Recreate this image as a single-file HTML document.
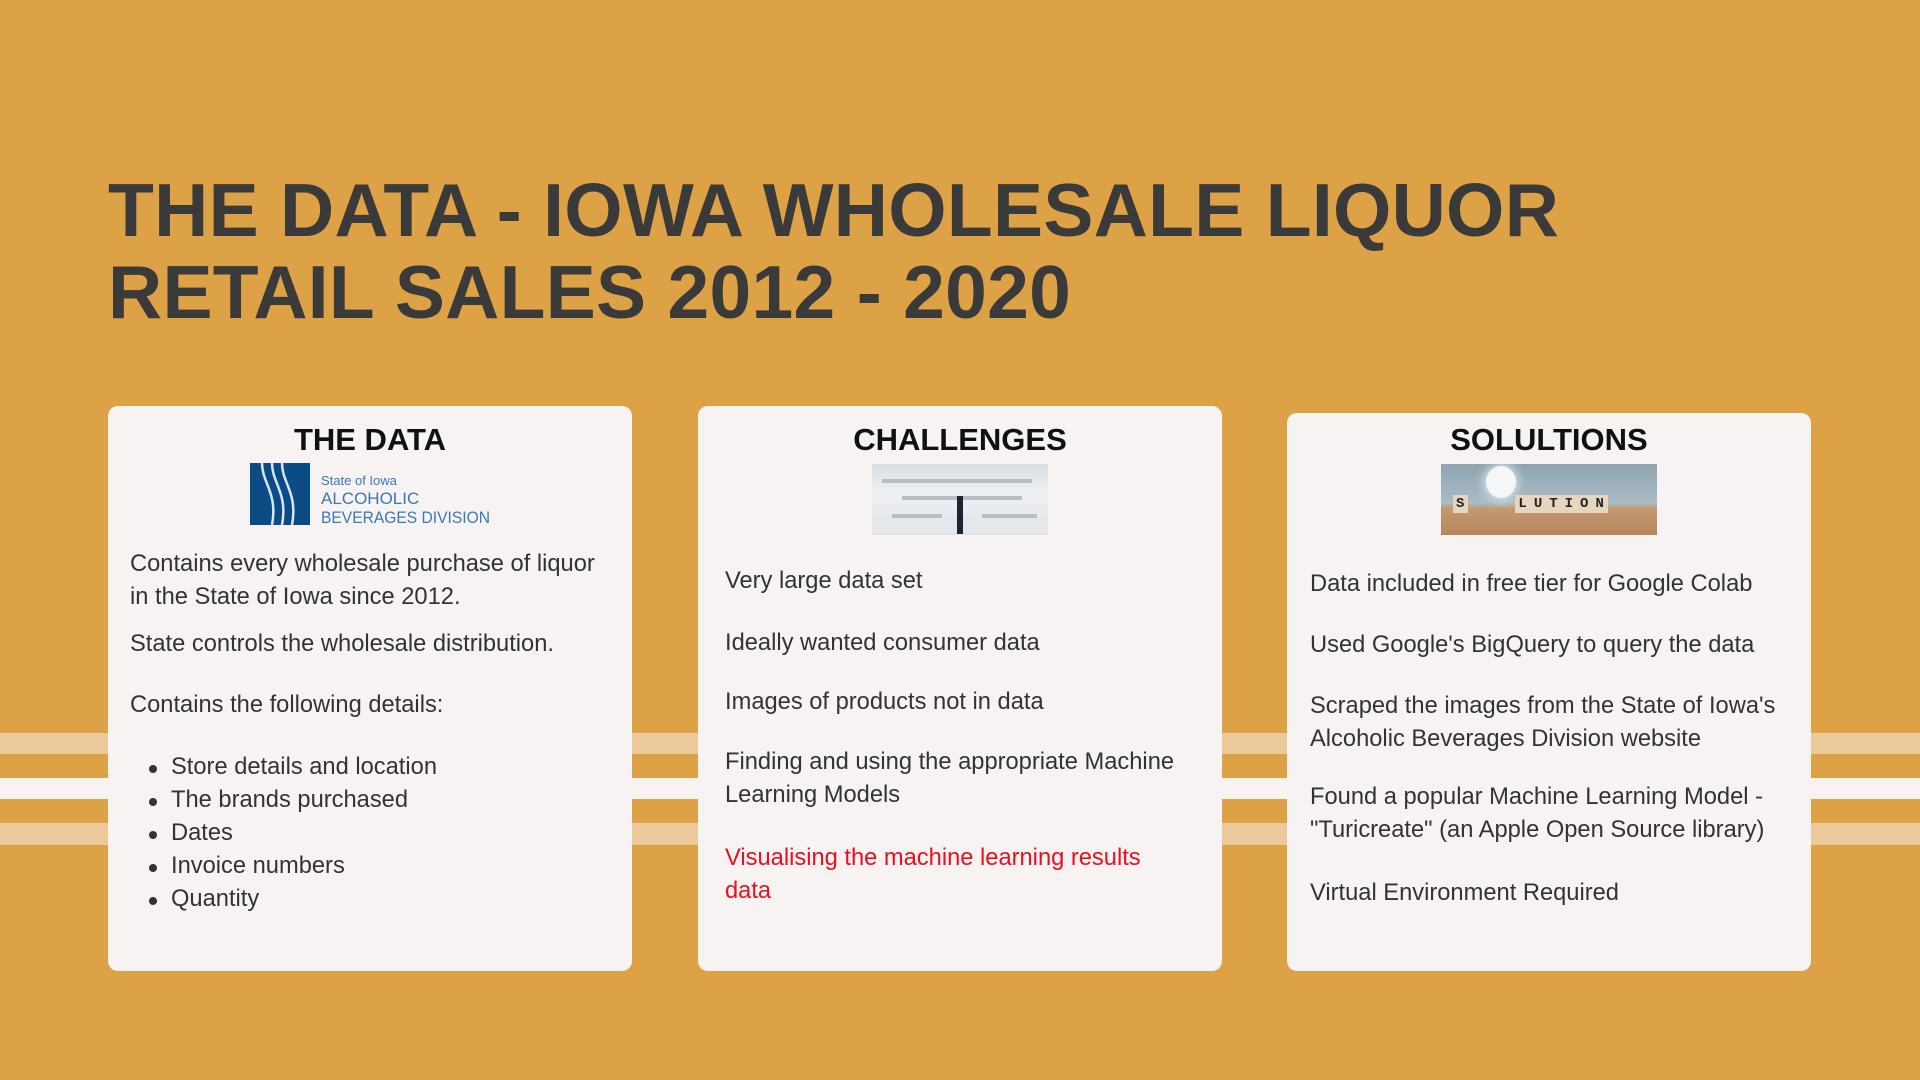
<!DOCTYPE html>
<html><head><meta charset="utf-8"><style>
*{margin:0;padding:0;box-sizing:border-box}
body{width:1920px;height:1080px;background:#dea246;position:relative;overflow:hidden;font-family:"Liberation Sans",sans-serif}
.band{position:absolute;left:0;width:1920px}
.title{position:absolute;left:108px;font-weight:bold;font-size:75px;color:#3a3a3a;white-space:nowrap;line-height:82px;letter-spacing:0.3px}
.card{position:absolute;background:#f7f3f2;border-radius:10px}
.h{position:absolute;width:100%;text-align:center;font-weight:bold;font-size:31px;color:#111;line-height:36px}
.t{position:absolute;font-size:23.7px;color:#333;line-height:33px;white-space:nowrap}
.red{color:#e8101e}
.dot{position:absolute;width:8px;height:8px;border-radius:50%;background:#333}
</style></head><body>
<div class="band" style="top:733px;height:21px;background:#ebc99a"></div>
<div class="band" style="top:778px;height:21px;background:#f8f3f1"></div>
<div class="band" style="top:823px;height:22px;background:#ebc99a"></div>

<div class="title" style="top:169px">THE DATA - IOWA WHOLESALE LIQUOR<br>RETAIL SALES 2012 - 2020</div>

<div class="card" style="left:108px;top:406px;width:524px;height:565px">
  <div class="h" style="top:16px">THE DATA</div>
  <svg style="position:absolute;left:142px;top:57px" width="250" height="62" viewBox="0 0 250 62">
    <rect x="0" y="0" width="60" height="62" fill="#0b4c86"/>
    <path d="M12 0 C12 20 28 30 22 62 M22 0 C22 20 38 30 32 62 M32 0 C32 20 48 30 42 62" stroke="#d9e6f2" stroke-width="2.5" fill="none"/>
    <text x="71" y="22" font-family="Liberation Sans" font-size="13" fill="#3b78b4">State of Iowa</text>
    <text x="71" y="41" font-family="Liberation Sans" font-size="17" fill="#3b78b4">ALCOHOLIC</text>
    <text x="71" y="60" font-family="Liberation Sans" font-size="17" fill="#3b78b4" textLength="169" lengthAdjust="spacingAndGlyphs">BEVERAGES DIVISION</text>
  </svg>
  <div class="t" style="left:22px;top:142px">Contains every wholesale purchase of liquor<br>in the State of Iowa since 2012.</div>
  <div class="t" style="left:22px;top:222px">State controls the wholesale distribution.</div>
  <div class="t" style="left:22px;top:283px">Contains the following details:</div>
  <div class="dot" style="left:41px;top:359px"></div>
  <div class="t" style="left:63px;top:345px">Store details and location</div>
  <div class="dot" style="left:41px;top:392px"></div>
  <div class="t" style="left:63px;top:378px">The brands purchased</div>
  <div class="dot" style="left:41px;top:425px"></div>
  <div class="t" style="left:63px;top:411px">Dates</div>
  <div class="dot" style="left:41px;top:458px"></div>
  <div class="t" style="left:63px;top:444px">Invoice numbers</div>
  <div class="dot" style="left:41px;top:491px"></div>
  <div class="t" style="left:63px;top:477px">Quantity</div>
</div>

<div class="card" style="left:698px;top:406px;width:524px;height:565px">
  <div class="h" style="top:16px">CHALLENGES</div>
  <div style="position:absolute;left:174px;top:58px;width:176px;height:71px;background:linear-gradient(180deg,#d9dde2,#eef0f3 40%,#e2e5e9);overflow:hidden">
    <div style="position:absolute;left:10px;top:15px;width:150px;height:4px;background:#b8bec6"></div>
    <div style="position:absolute;left:30px;top:32px;width:120px;height:4px;background:#b8bec6"></div>
    <div style="position:absolute;left:20px;top:50px;width:50px;height:4px;background:#b8bec6"></div>
    <div style="position:absolute;left:110px;top:50px;width:55px;height:4px;background:#b8bec6"></div>
    <div style="position:absolute;left:85px;top:32px;width:6px;height:38px;background:#1d2433"></div>
  </div>
  <div class="t" style="left:27px;top:159px">Very large data set</div>
  <div class="t" style="left:27px;top:221px">Ideally wanted consumer data</div>
  <div class="t" style="left:27px;top:280px">Images of products not in data</div>
  <div class="t" style="left:27px;top:340px">Finding and using the appropriate Machine<br>Learning Models</div>
  <div class="t red" style="left:27px;top:436px">Visualising the machine learning results<br>data</div>
</div>

<div class="card" style="left:1287px;top:413px;width:524px;height:558px">
  <div class="h" style="top:9px">SOLULTIONS</div>
  <div style="position:absolute;left:154px;top:51px;width:216px;height:71px;background:linear-gradient(180deg,#8fa3b0,#a9bcc6 55%,#c29a72 62%,#b8875c);overflow:hidden">
    <div style="position:absolute;left:45px;top:2px;width:30px;height:32px;border-radius:50%;background:#f4f6f8;box-shadow:0 0 12px #fff"></div>
    <div style="position:absolute;left:12px;top:32px;font:bold 14px 'Liberation Mono',monospace;color:#222;letter-spacing:1px;white-space:nowrap"><span style="background:#e6d6c0;padding:1px 3px">S</span>&nbsp;&nbsp;&nbsp;&nbsp;&nbsp;<span style="background:#e6d6c0;padding:1px 3px">L</span><span style="background:#e6d6c0;padding:1px 3px">U</span><span style="background:#e6d6c0;padding:1px 3px">T</span><span style="background:#e6d6c0;padding:1px 3px">I</span><span style="background:#e6d6c0;padding:1px 3px">O</span><span style="background:#e6d6c0;padding:1px 3px">N</span></div>
  </div>
  <div class="t" style="left:23px;top:155px">Data included in free tier for Google Colab</div>
  <div class="t" style="left:23px;top:216px">Used Google's BigQuery to query the data</div>
  <div class="t" style="left:23px;top:277px">Scraped the images from the State of Iowa's<br>Alcoholic Beverages Division website</div>
  <div class="t" style="left:23px;top:368px">Found a popular Machine Learning Model -<br>"Turicreate" (an Apple Open Source library)</div>
  <div class="t" style="left:23px;top:464px">Virtual Environment Required</div>
</div>
</body></html>
